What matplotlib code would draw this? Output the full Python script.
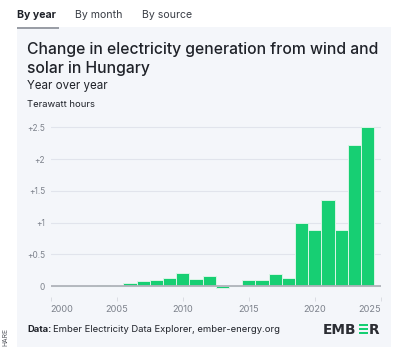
import numpy as np
import matplotlib.pyplot as plt
from matplotlib.patches import Rectangle

# Year-over-year change in wind + solar generation, Hungary (TWh)
years = list(range(2001, 2025))
change_twh = [0.0, 0.0, 0.0, 0.02, 0.0, 0.04, 0.075, 0.09, 0.13, 0.21,
              0.105, 0.155, -0.03, 0.0, 0.10, 0.09, 0.19, 0.13,
              1.0, 0.88, 1.36, 0.88, 2.22, 2.51]
ytick_vals = [0, 0.5, 1, 1.5, 2, 2.5]
ytick_labels = ["0", "+0.5", "+1", "+1.5", "+2", "+2.5"]
xtick_vals = [2000, 2005, 2010, 2015, 2020, 2025]

FONT = "Inter"
PANEL = "#f4f6fa"
GREEN = "#17cf73"
DARK = "#1f2229"
GREY = "#7d828c"

W, H = 400, 347
fig = plt.figure(figsize=(W / 100, H / 100), dpi=100)
fig.patch.set_facecolor("white")

def px(x, y):
    return x / W, 1 - y / H

def box(x, y_top, w, h, color):
    # rectangle in pixel units, measured from the top-left corner
    fig.patches.append(Rectangle(px(x, y_top + h), w / W, h / H, facecolor=color,
                                 linewidth=0, transform=fig.transFigure, figure=fig))

# panel background
bg = fig.add_axes([17 / W, 0, (391 - 17) / W, 1 - 27 / H])
bg.set_axis_off()
bg.add_patch(Rectangle((0, 0), 1, 1, color=PANEL, transform=bg.transAxes))

# tabs
fig.text(*px(17, 18), "By year", fontsize=7.6, fontweight="bold", color=DARK, family=FONT)
fig.text(*px(75, 18), "By month", fontsize=7.6, color="#3a3e46", family=FONT)
fig.text(*px(142, 18), "By source", fontsize=7.6, color="#3a3e46", family=FONT)
box(17, 26.5, 42, 2.3, "#9a9ea6")

# titles
fig.text(*px(27, 54), "Change in electricity generation from wind and",
         fontsize=11.3, fontweight="medium", color=DARK, family=FONT)
fig.text(*px(27, 72.5), "solar in Hungary", fontsize=11.3, fontweight="medium",
         color=DARK, family=FONT)
fig.text(*px(27, 89), "Year over year", fontsize=8.3, color=DARK, family=FONT)
fig.text(*px(27, 107), "Terawatt hours", fontsize=6.8, color=DARK, family=FONT)

# chart area: x 2000 -> 50.7px, 2025 -> 380.7px ; y 0 -> 286px, 63.4 px per TWh
ymin, ymax = -0.175, 2.6
y0, scale = 286, 63.4
top_px = y0 - ymax * scale
bot_px = y0 - ymin * scale
ax = fig.add_axes([50.7 / W, 1 - bot_px / H, 330 / W, (bot_px - top_px) / H])
ax.set_facecolor("none")
ax.bar(years, change_twh, width=1.0, color=GREEN, edgecolor="#d9f5e6",
       linewidth=0.7, zorder=3)
ax.axhline(0, color="#b0b3ba", linewidth=1.3, zorder=4)
ax.set_xlim(2000, 2025)
ax.set_ylim(ymin, ymax)
ax.set_yticks(ytick_vals)
ax.set_yticklabels(ytick_labels, family=FONT)
ax.set_xticks(xtick_vals)
ax.set_xticklabels([str(v) for v in xtick_vals], family=FONT)
ax.grid(axis="y", color="#e1e4ec", linewidth=0.8, zorder=0)
for s in ax.spines.values():
    s.set_visible(False)
ax.tick_params(axis="y", length=0, labelsize=6, labelcolor=GREY, pad=4)
ax.tick_params(axis="x", length=3, width=0.6, color="#d5d8de",
               labelsize=6.6, labelcolor=GREY, pad=2.5)
for lab in ax.get_xticklabels():
    if lab.get_text() == "2000":
        lab.set_horizontalalignment("left")
    if lab.get_text() == "2025":
        lab.set_horizontalalignment("right")

# footer
fig.text(*px(27, 332), "Data:", fontsize=6.8, fontweight="bold", color=DARK, family=FONT)
fig.text(*px(53, 332), "Ember Electricity Data Explorer, ember-energy.org",
         fontsize=6.8, color=DARK, family=FONT)

# EMBER logo
fig.text(*px(322.5, 333.5), "EMB", fontsize=9.9, fontweight="bold", color="#2b2d33",
         family="DejaVu Sans")
for i in range(3):
    box(359, 323.5 + i * 4, 8.5, 2.2, GREEN)
fig.text(*px(368.5, 333.5), "R", fontsize=9.9, fontweight="bold", color="#2b2d33",
         family="DejaVu Sans")

# share label, partly hidden in the reference
fig.text(*px(2.5, 346.5), "HARE", fontsize=4.8, rotation=90, color="#55585f",
         family=FONT, va="bottom", ha="left")

fig.savefig("out.png", dpi=100)
